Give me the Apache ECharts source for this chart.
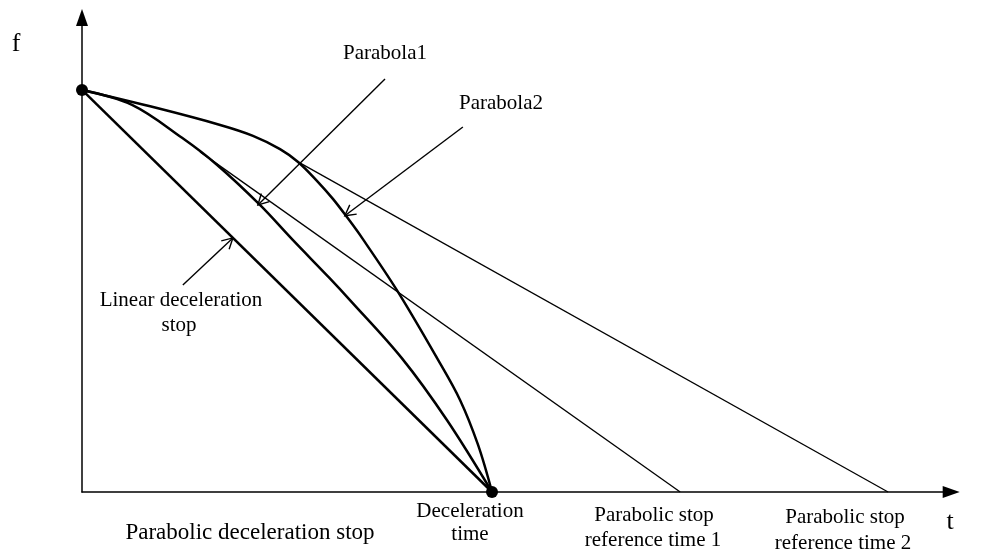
<!DOCTYPE html>
<html>
<head>
<meta charset="utf-8">
<script src="https://cdn.jsdelivr.net/npm/echarts@6/dist/echarts.min.js"></script>
<style>
html, body { margin: 0; padding: 0; background: #fff; }
#chart { width: 990px; height: 553px; }
</style>
</head>
<body>
<div id="chart"></div>
<script>
// values: t (deceleration time = 10), f (start = 10)
var linearStop = [[0, 10], [10, 0]];
var parabola1 = [[0, 10], [1.22, 9.63], [2.44, 8.81], [3.29, 8.14], [4.34, 7.14], [5.14, 6.27],
    [6.04, 5.32], [6.53, 4.78], [7.80, 3.33], [8.90, 1.79], [10, 0]];
var parabola2 = [[0, 10], [1.83, 9.55], [3.37, 9.13], [4.17, 8.86], [4.83, 8.53], [5.27, 8.21],
    [5.73, 7.74], [6.12, 7.29], [6.46, 6.84], [6.83, 6.32], [7.68, 5.02], [8.66, 3.33],
    [9.22, 2.29], [9.66, 1.17], [10, 0]];
var refLine1 = [[2.88, 8.46], [14.59, 0]];
var refLine2 = [[5.27, 8.21], [19.66, 0]];
var keyPoints = [[0, 10], [10, 0]];
// pointer arrows: [from t, from f, to t, to f]
var pointers = [[7.39, 10.27, 4.29, 7.14], [9.29, 9.08, 6.41, 6.87], [2.46, 5.15, 3.68, 6.32]];

var font = '21px "Liberation Serif", "Times New Roman", serif';

function txt(text, x, y, size) {
    return {
        type: 'text', x: x, y: y, silent: true,
        style: {
            text: text, fill: '#000', textAlign: 'center', textVerticalAlign: 'middle',
            font: size ? size + 'px "Liberation Serif", "Times New Roman", serif' : font
        }
    };
}

function renderPointer(params, api) {
    var a = api.coord([api.value(0), api.value(1)]);
    var b = api.coord([api.value(2), api.value(3)]);
    var ang = Math.atan2(a[1] - b[1], a[0] - b[0]);
    var len = 12, spread = 0.5;
    var h1 = [b[0] + len * Math.cos(ang + spread), b[1] + len * Math.sin(ang + spread)];
    var h2 = [b[0] + len * Math.cos(ang - spread), b[1] + len * Math.sin(ang - spread)];
    return {
        type: 'group',
        children: [
            { type: 'line', shape: { x1: a[0], y1: a[1], x2: b[0], y2: b[1] },
              style: { stroke: '#000', lineWidth: 1.4 } },
            { type: 'polyline', shape: { points: [h1, b, h2] },
              style: { stroke: '#000', fill: null, lineWidth: 1.4 } }
        ]
    };
}

function lineSeries(data, width, smooth) {
    return {
        type: 'line', data: data, symbol: 'none', smooth: smooth ? 0.35 : false,
        silent: true, animation: false,
        lineStyle: { color: '#000', width: width }
    };
}

var axisCommon = {
    type: 'value',
    axisLine: { show: true, onZero: false, symbol: ['none', 'triangle'], symbolSize: [12, 17],
        lineStyle: { color: '#000', width: 1.5 } },
    axisTick: { show: false },
    axisLabel: { show: false },
    splitLine: { show: false }
};

var chart = echarts.init(document.getElementById('chart'));
chart.setOption({
    animation: false,
    grid: { left: 82, right: 38.8, top: 17.6, bottom: 61 },
    xAxis: Object.assign({}, axisCommon, { min: 0, max: 21.2 }),
    yAxis: Object.assign({}, axisCommon, { min: 0, max: 11.8 }),
    series: [
        lineSeries(linearStop, 2.5, false),
        lineSeries(parabola1, 2.5, true),
        lineSeries(parabola2, 2.5, true),
        lineSeries(refLine1, 1.3, false),
        lineSeries(refLine2, 1.3, false),
        {
            type: 'custom', data: pointers, renderItem: renderPointer, silent: true,
            encode: { x: [0, 2], y: [1, 3] }
        },
        {
            type: 'scatter', data: keyPoints, symbol: 'circle', symbolSize: 12, silent: true,
            itemStyle: { color: '#000', opacity: 1 }
        }
    ],
    graphic: [
        txt('f', 16, 44, 26),
        txt('t', 950, 522, 26),
        txt('Parabola1', 385, 53),
        txt('Parabola2', 501, 103),
        txt('Linear deceleration', 181, 300),
        txt('stop', 179, 325),
        txt('Parabolic deceleration stop', 250, 533, 23),
        txt('Deceleration', 470, 511),
        txt('time', 470, 534),
        txt('Parabolic stop', 654, 515),
        txt('reference time 1', 653, 540),
        txt('Parabolic stop', 845, 517),
        txt('reference time 2', 843, 543)
    ]
});
</script>
</body>
</html>
